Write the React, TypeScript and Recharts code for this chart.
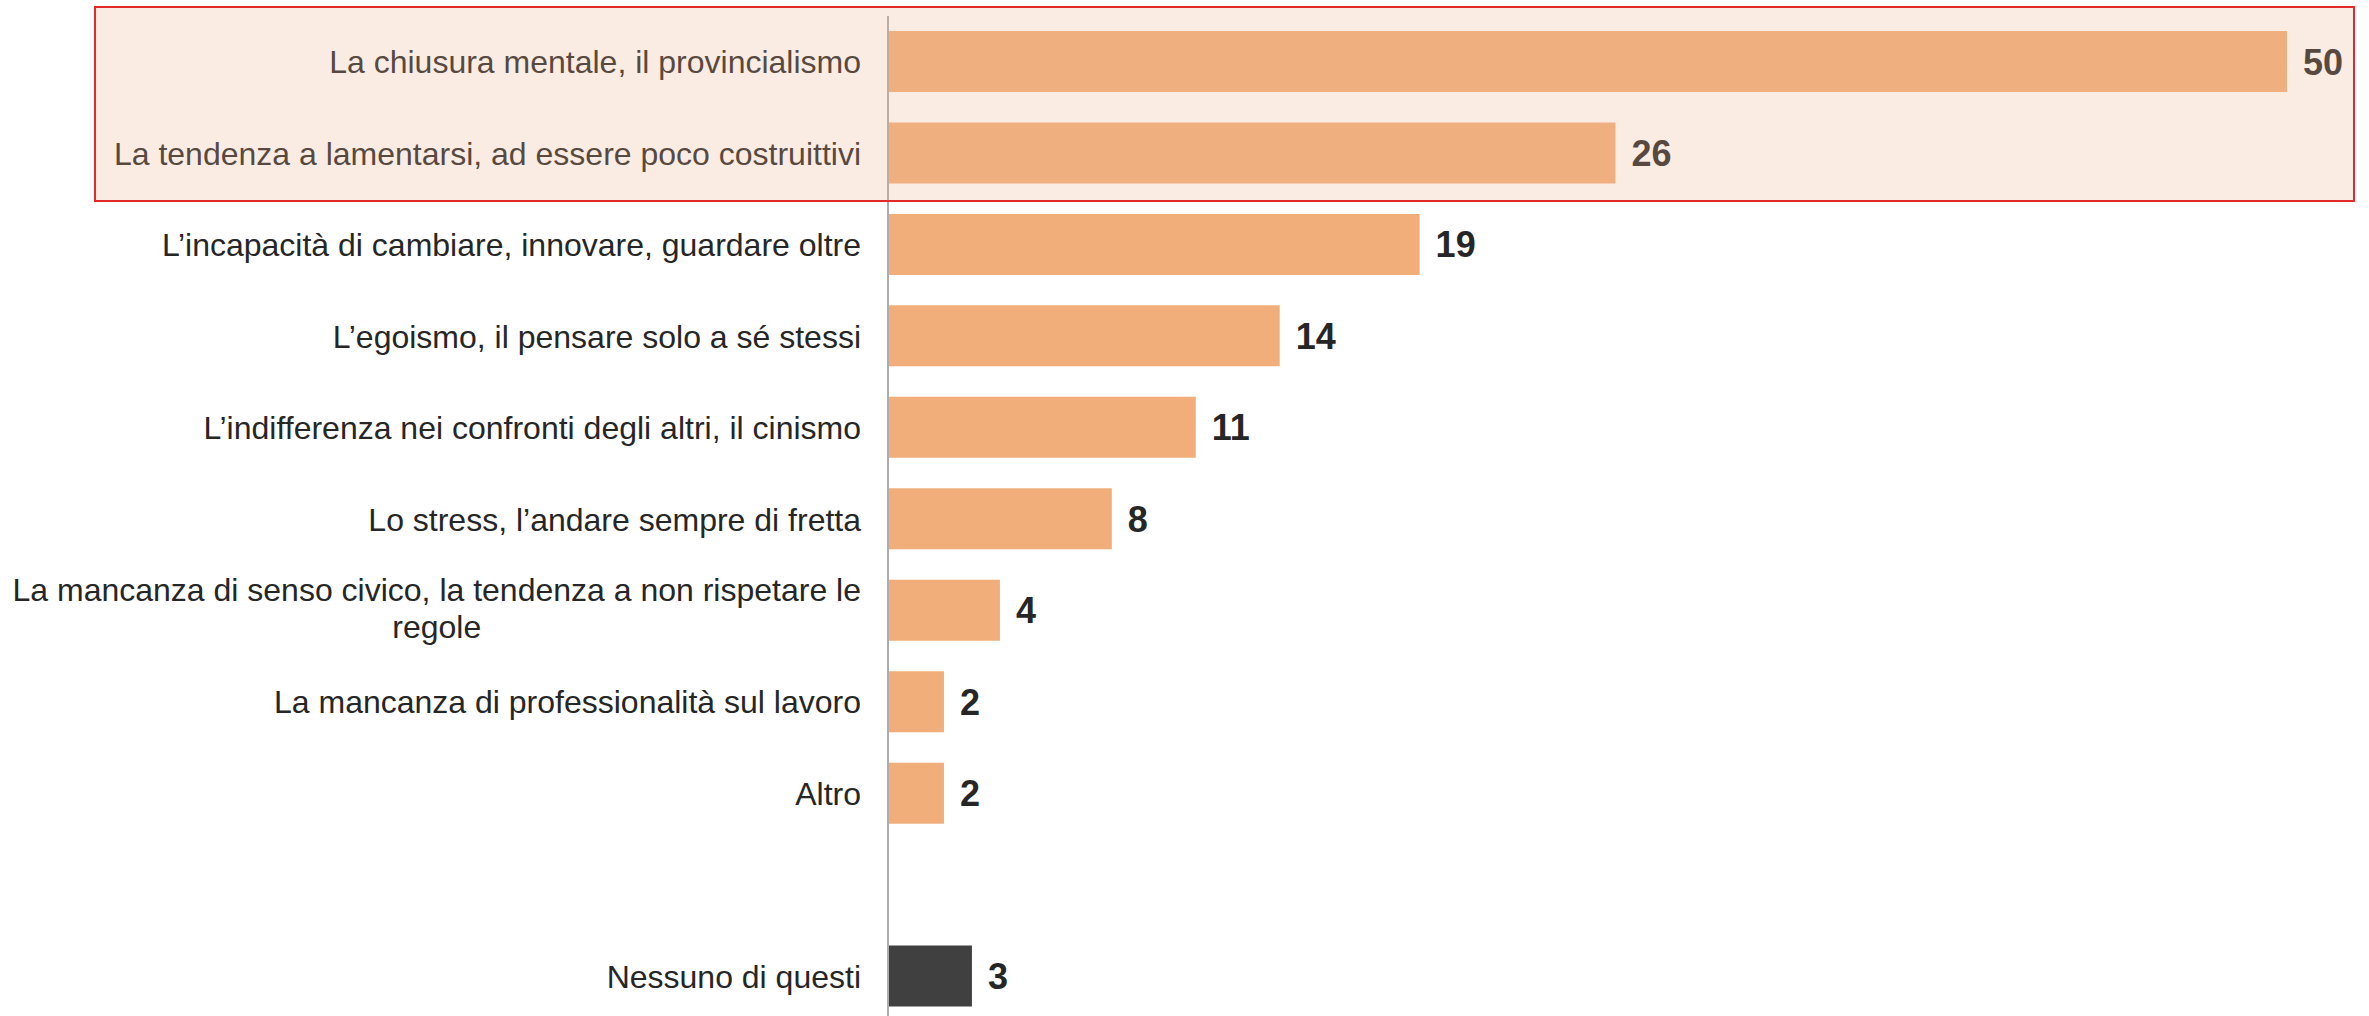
import { BarChart, Bar, XAxis, YAxis, Cell, LabelList } from 'recharts';

const categories = [
  'La chiusura mentale, il provincialismo',
  'La tendenza a lamentarsi, ad essere poco costruittivi',
  'L\u2019incapacità di cambiare, innovare, guardare oltre',
  'L\u2019egoismo, il pensare solo a sé stessi',
  'L\u2019indifferenza nei confronti degli altri, il cinismo',
  'Lo stress, l\u2019andare sempre di fretta',
  'La mancanza di senso civico, la tendenza a non rispetare le regole',
  'La mancanza di professionalità sul lavoro',
  'Altro',
  '',
  'Nessuno di questi'
];
const values: (number | null)[] = [50, 26, 19, 14, 11, 8, 4, 2, 2, null, 3];
const highlighted = ['Nessuno di questi'];

const FONT = '"Liberation Sans", Arial, sans-serif';
const BAR = '#F1AE7A';
const DARK = '#404040';
const TEXT = '#262626';

const data = categories.map((name, i) => ({ name, value: values[i] }));

let ctx: CanvasRenderingContext2D | null = null;
function measure(s: string) {
  if (!ctx) ctx = document.createElement('canvas').getContext('2d');
  if (!ctx) return s.length * 16;
  ctx.font = `32px ${FONT}`;
  return ctx.measureText(s).width;
}

function wrap(s: string, max: number) {
  const words = s.split(' ');
  const lines: string[] = [];
  let cur = '';
  for (const w of words) {
    const next = cur ? cur + ' ' + w : w;
    if (cur && measure(next) > max) {
      lines.push(cur);
      cur = w;
    } else cur = next;
  }
  if (cur) lines.push(cur);
  return lines;
}

function CategoryTick(props: any) {
  const { x, y, payload } = props;
  const label: string = payload.value;
  if (!label) return null;
  // tick x already sits a few px left of the axis line
  const right = x - 19;
  const lines = wrap(label, right - 2);
  if (lines.length === 1) {
    return (
      <text x={right} y={y + 11.5} textAnchor="end" fontSize={32} fontFamily={FONT} fill={TEXT}>
        {label}
      </text>
    );
  }
  const widest = Math.max(...lines.map(measure));
  const cx = right - widest / 2;
  const lh = 37;
  const top = y + 11.5 - ((lines.length - 1) * lh) / 2 - 2;
  return (
    <text textAnchor="middle" fontSize={32} fontFamily={FONT} fill={TEXT}>
      {lines.map((l, i) => (
        <tspan key={i} x={cx} y={top + i * lh}>
          {l}
        </tspan>
      ))}
    </text>
  );
}

function ValueLabel(props: any) {
  const { x, y, width, height, value } = props;
  if (value == null) return null;
  return (
    <text x={x + width + 16} y={y + height / 2 + 13} fontSize={36} fontWeight="bold" fontFamily={FONT} fill={TEXT}>
      {value}
    </text>
  );
}

export default function App() {
  return (
    <div style={{ position: 'absolute', left: 0, top: 0, width: 2369, height: 1016, overflow: 'hidden', background: '#fff' }}>
      <BarChart
        width={2369}
        height={1024}
        data={data}
        layout="vertical"
        margin={{ top: 16, right: 82, bottom: 2, left: 0 }}
      >
        <XAxis type="number" domain={[0, 50]} hide />
        <YAxis
          type="category"
          dataKey="name"
          width={888}
          interval={0}
          tickLine={false}
          axisLine={{ stroke: '#ADADAD', strokeWidth: 2 }}
          tick={<CategoryTick />}
        />
        <Bar dataKey="value" barSize={61} isAnimationActive={false}>
          {data.map((d, i) => (
            <Cell key={`cell-${i}`} fill={highlighted.includes(d.name) ? DARK : BAR} />
          ))}
          <LabelList dataKey="value" content={<ValueLabel />} />
        </Bar>
      </BarChart>
      {/* highlight box over the first two rows */}
      <div
        style={{
          position: 'absolute',
          left: 94,
          top: 6,
          width: 2261,
          height: 196,
          boxSizing: 'border-box',
          border: '2px solid #E2292C',
          background: 'rgba(239,179,143,0.25)',
          pointerEvents: 'none'
        }}
      />
    </div>
  );
}
